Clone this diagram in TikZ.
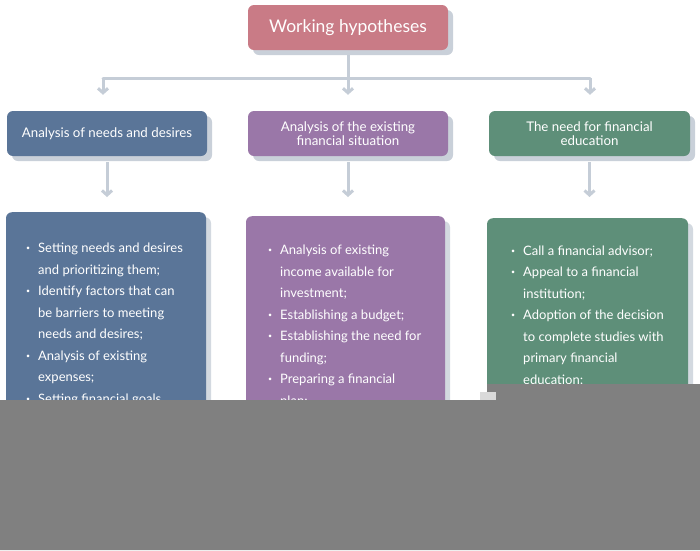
\documentclass[tikz,border=0pt]{standalone}
\usepackage{fontspec}
\setmainfont{Lato}
\usetikzlibrary{arrows.meta,shadows}
\definecolor{pinkc}{HTML}{C97B86}
\definecolor{bluec}{HTML}{5A7598}
\definecolor{purplec}{HTML}{9A77A8}
\definecolor{greenc}{HTML}{5E8F79}
\definecolor{linec}{HTML}{C5CDD7}
\definecolor{shadowc}{HTML}{C9D0D9}
\definecolor{shadowl}{HTML}{D3D9E0}
\definecolor{coverc}{HTML}{808080}
\definecolor{patchc}{HTML}{DADADA}
\newcommand\bulx{\makebox[12pt][l]{\raisebox{0.3ex}{\fontsize{7}{7}\selectfont •}}}
\begin{document}
\begin{tikzpicture}[x=1pt,y=-1pt,
  boxbase/.style={rounded corners=6pt, text=white, inner sep=0pt, align=center},
  headbox/.style={boxbase, minimum width=200pt, minimum height=45pt,
    drop shadow={shadow xshift=5pt, shadow yshift=-5pt, fill=shadowc, opacity=1},
    font=\fontsize{13.3}{13.5}\selectfont},
  contentbox/.style={boxbase, minimum width=200pt, minimum height=210pt, anchor=north,
    drop shadow={shadow xshift=5pt, shadow yshift=-5pt, fill=shadowl, opacity=1}},
  listtext/.style={text=white, inner sep=0pt, anchor=base west,
    font=\fontsize{13}{21.5}\selectfont},
  conn/.style={draw=linec, line width=3pt},
  arr/.style={conn, -{Straight Barb[length=4.5pt, width=10pt]}},
]
\useasboundingbox (0,0) rectangle (700,550);
\fill[white] (0,0) rectangle (700,550);

% title
\node[headbox, fill=pinkc, font=\fontsize{17.5}{19}\selectfont] (title) at (348,27.5) {Working hypotheses};

% level 2
\node[headbox, fill=bluec] (b1) at (107,133.5) {Analysis of needs and desires};
\node[headbox, fill=purplec] (b2) at (348,133.5) {Analysis of the existing\\financial situation};
\node[headbox, fill=greenc, minimum width=201pt] (b3) at (589.5,133.5) {The need for financial\\education};

% connectors from title
\coordinate (hm) at (348,78);
\coordinate (hl) at (103,78);
\coordinate (hr) at (590,78);
\draw[conn] ([yshift=-5pt]title.south) -- (hm);
\draw[conn, line cap=round] (hl) -- (hr);
\draw[arr, shorten >=16pt] (hl) -- (hl |- b1.north);
\draw[arr, shorten >=16pt] (hm) -- (hm |- b2.north);
\draw[arr, shorten >=16pt] (hr) -- (hr |- b3.north);

% content boxes
\node[contentbox, fill=bluec] (c1) at (106,212) {};
\node[contentbox, fill=purplec, minimum width=199pt] (c2) at (345.5,216) {};
\node[contentbox, fill=greenc, minimum width=201pt] (c3) at (587.5,218) {};

\draw[arr, shorten <=6pt, shorten >=15pt] (b1.south) -- (b1.south |- c1.north);
\draw[arr, shorten <=6pt, shorten >=19pt] (b2.south) -- (b2.south |- c2.north);
\draw[arr, shorten <=6pt, shorten >=21pt] (b3.south) -- (b3.south |- c3.north);

% lists
\node[listtext] (t1) at (26,252.5) {\begin{tabular}[t]{@{}l@{}l@{}}
\bulx & Setting needs and desires\\
 & and prioritizing them;\\
\bulx & Identify factors that can\\
 & be barriers to meeting\\
 & needs and desires;\\
\bulx & Analysis of existing\\
 & expenses;\\
\bulx & Setting financial goals
\end{tabular}};
\node[listtext] (t2) at (268,254.5) {\begin{tabular}[t]{@{}l@{}l@{}}
\bulx & Analysis of existing\\
 & income available for\\
 & investment;\\
\bulx & Establishing a budget;\\
\bulx & Establishing the need for\\
 & funding;\\
\bulx & Preparing a financial\\
 & plan;
\end{tabular}};
\node[listtext] (t3) at (511,255) {\begin{tabular}[t]{@{}l@{}l@{}}
\bulx & Call a financial advisor;\\
\bulx & Appeal to a financial\\
 & institution;\\
\bulx & Adoption of the decision\\
 & to complete studies with\\
 & primary financial\\
 & education;
\end{tabular}};

% grey cover at the bottom
\fill[coverc] (0,400) -- (487,400) -- (487,384) -- (700,384) -- (700,550) -- (0,550) -- cycle;
\fill[patchc] (480,392) rectangle (496,400);
\end{tikzpicture}
\end{document}
